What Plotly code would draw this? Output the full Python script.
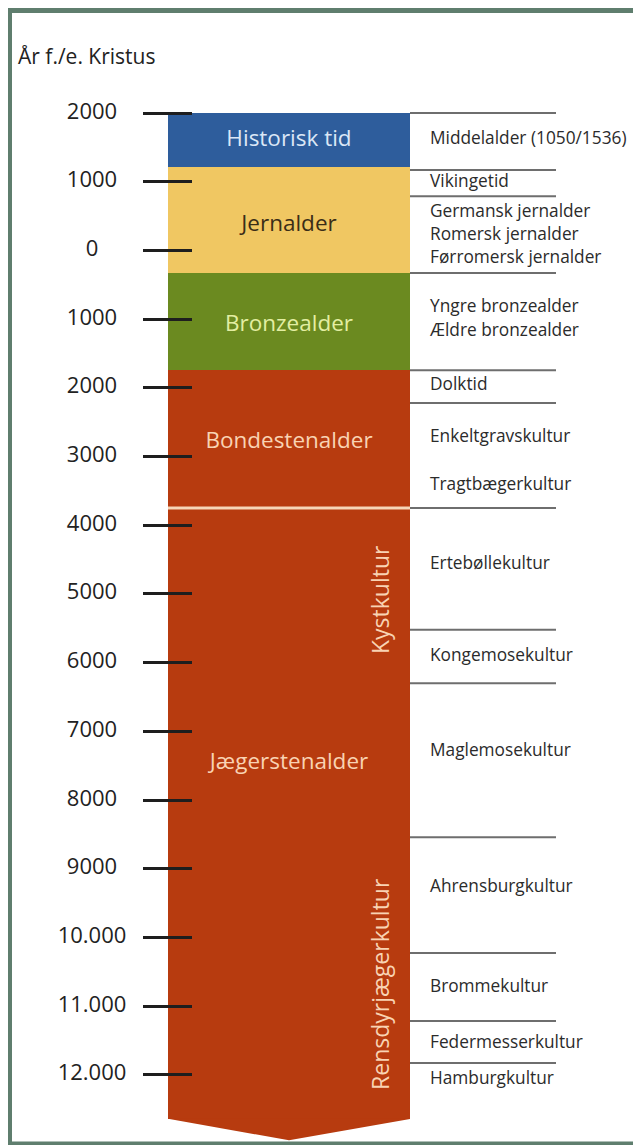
import plotly.graph_objects as go

# ---------------- data (years: positive = e.Kr., negative = f.Kr.) ----------------
periods = ["Historisk tid", "Jernalder", "Bronzealder", "Bondestenalder", "Jægerstenalder"]
period_top = [2000, 1214, -329, -1745, -3750]
period_bottom = [1214, -329, -1745, -3750, -12640]
period_label_year = [1607, 370, -1085, -2788, -7460]

culture_boundaries = [2000, 1170, 790, -330, -1745, -2220, -3750, -5520, -6300,
                      -8540, -10225, -11215, -11825]

sub_labels = ["Middelalder (1050/1536)", "Vikingetid", "Germansk jernalder",
              "Romersk jernalder", "Førromersk jernalder", "Yngre bronzealder",
              "Ældre bronzealder", "Dolktid", "Enkeltgravskultur", "Tragtbægerkultur",
              "Ertebøllekultur", "Kongemosekultur", "Maglemosekultur",
              "Ahrensburgkultur", "Brommekultur", "Federmesserkultur", "Hamburgkultur"]
sub_label_year = [1607, 981, 545, 210, -125, -838, -1187, -1973, -2730, -3429,
                  -4578, -5917, -7300, -9279, -10735, -11550, -12074]

vertical_labels = ["Kystkultur", "Rensdyrjægerkultur"]
vertical_label_year = [-5088, -10676]

tick_values = [2000, 1000, 0, -1000, -2000, -3000, -4000, -5000, -6000, -7000,
               -8000, -9000, -10000, -11000, -12000]
tick_text = ["2000", "1000", "0", "1000", "2000", "3000", "4000", "5000", "6000",
             "7000", "8000", "9000", "10.000", "11.000", "12.000"]

separator_year = -3750

# ---------------- styles / layout ----------------
PAGE_W, PAGE_H = 641, 1145
OFF = 8                      # default page margin of the html body
W, H = PAGE_W - OFF, PAGE_H - OFF
FONT = "Open Sans"


def fx(page_x):
    return page_x - OFF


BAR_LEFT, BAR_RIGHT = fx(168), fx(410)
BAR_CENTER = (BAR_LEFT + BAR_RIGHT) / 2
LINE_RIGHT = fx(556)
TICK_LABEL_X = fx(92)
SUB_LABEL_X = fx(430)
VERT_LABEL_X = fx(380)
AXIS_X = fx(192)
CHEVRON_DEPTH = 310

period_colors = ["#2e5d9c", "#f0c762", "#6b8a20", "#b73b0f", "#b73b0f"]
period_text_colors = ["#dbe7f6", "#3a2d17", "#e3eea2", "#f9d3b3", "#f9d3b3"]

# pixel -> year calibration of the axis
Y_TOP_PX, PX_PER_YEAR = 113 - OFF, 0.06871
y_max = 2000 + Y_TOP_PX / PX_PER_YEAR
y_min = 2000 - (H - Y_TOP_PX) / PX_PER_YEAR

fig = go.Figure()

# period bars
fig.add_trace(go.Bar(
    x=[BAR_CENTER] * len(periods),
    y=[t - b for t, b in zip(period_top, period_bottom)],
    base=period_bottom,
    width=BAR_RIGHT - BAR_LEFT,
    marker=dict(color=period_colors, line=dict(width=0)),
    hoverinfo="skip", showlegend=False,
))

# chevron at the bottom of the last period
last_bottom = period_bottom[-1]
fig.add_trace(go.Scatter(
    x=[BAR_LEFT, BAR_RIGHT, BAR_RIGHT, BAR_CENTER, BAR_LEFT, BAR_LEFT],
    y=[last_bottom + 1, last_bottom + 1, last_bottom, last_bottom - CHEVRON_DEPTH,
       last_bottom, last_bottom + 1],
    fill="toself", fillcolor=period_colors[-1], mode="lines",
    line=dict(width=0, color=period_colors[-1]),
    hoverinfo="skip", showlegend=False,
))

# separator between Bondestenalder and Jægerstenalder
fig.add_trace(go.Scatter(
    x=[BAR_LEFT, BAR_RIGHT], y=[separator_year, separator_year],
    mode="lines", line=dict(color="#f6d6b8", width=3),
    hoverinfo="skip", showlegend=False,
))

# culture boundary lines to the right
lx, ly = [], []
for yb in culture_boundaries:
    lx += [BAR_RIGHT, LINE_RIGHT, None]
    ly += [yb, yb, None]
fig.add_trace(go.Scatter(
    x=lx, y=ly, mode="lines", line=dict(color="#6e6e6e", width=2),
    hoverinfo="skip", showlegend=False,
))

# period labels
fig.add_trace(go.Scatter(
    x=[BAR_CENTER] * len(periods), y=period_label_year, text=periods,
    mode="text", textposition="middle center",
    textfont=dict(family=FONT, size=22.5, color=period_text_colors),
    hoverinfo="skip", showlegend=False,
))

# sub-culture labels
fig.add_trace(go.Scatter(
    x=[SUB_LABEL_X] * len(sub_labels), y=sub_label_year, text=sub_labels,
    mode="text", textposition="middle right",
    textfont=dict(family=FONT, size=17.3, color="#2b2b2b"),
    hoverinfo="skip", showlegend=False,
))

# tick labels (centred)
fig.add_trace(go.Scatter(
    x=[TICK_LABEL_X] * len(tick_values), y=tick_values, text=tick_text,
    mode="text", textposition="middle center",
    textfont=dict(family=FONT, size=22, color="#222222"),
    hoverinfo="skip", showlegend=False,
))

annotations = []
for lab, yv in zip(vertical_labels, vertical_label_year):
    annotations.append(dict(
        x=VERT_LABEL_X, y=yv, xref="x", yref="y", text=lab, textangle=-90,
        showarrow=False, xanchor="center", yanchor="middle",
        font=dict(family=FONT, size=23, color="#f9d3b3"),
    ))
annotations.append(dict(
    x=fx(16) / W, y=1 - (56 - OFF) / H, xref="paper", yref="paper",
    text="År f./e. Kristus",
    showarrow=False, xanchor="left", yanchor="middle",
    font=dict(family=FONT, size=21, color="#222222"),
))

shapes = [dict(
    type="rect", xref="paper", yref="paper",
    x0=1.5 / W, x1=1.05, y0=1 - (1144 - OFF) / H, y1=1 - 2.5 / H,
    line=dict(color="#5f7e6e", width=5), fillcolor="rgba(0,0,0,0)", layer="above",
)]

fig.update_layout(
    width=W, height=H, margin=dict(l=0, r=0, t=0, b=0),
    paper_bgcolor="white", plot_bgcolor="white",
    template="none", showlegend=False, bargap=0,
    annotations=annotations, shapes=shapes,
    xaxis=dict(range=[0, W], visible=False, fixedrange=True),
    yaxis=dict(
        range=[y_min, y_max], anchor="free", position=AXIS_X / W,
        showgrid=False, zeroline=False, showline=False,
        ticks="outside", ticklen=49, tickwidth=3, tickcolor="#1e1e1e",
        tickvals=tick_values, showticklabels=False, fixedrange=True,
        layer="above traces",
    ),
)

fig.write_html("out.html")
